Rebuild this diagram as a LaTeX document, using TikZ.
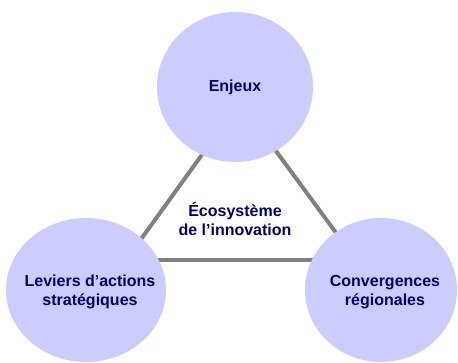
\documentclass[tikz,border=0pt]{standalone}
\usepackage{fontspec}
\setmainfont{Liberation Sans}
\definecolor{bulle}{RGB}{204,204,255}
\definecolor{encre}{RGB}{0,0,102}
\definecolor{trait}{RGB}{128,128,128}
\begin{document}
\begin{tikzpicture}[x=1pt,y=-1pt,
  label/.style={align=center,text=encre,inner sep=0pt,
    font=\fontsize{16}{18.5}\selectfont\bfseries},
  lien/.style={draw=trait,line width=4pt}]
\useasboundingbox (0,0) rectangle (458,363);
% triangle behind the circles
\coordinate (haut) at (240,102);
\coordinate (gauche) at (126,260);
\coordinate (droite) at (356,260);
\draw[lien] (haut) -- (gauche);
\draw[lien] (haut) -- (droite);
\draw[lien] (gauche) -- (droite);
% circles
\fill[bulle] (235,87) ellipse [x radius=78, y radius=75];
\fill[bulle] (86,290) ellipse [x radius=80, y radius=72];
\fill[bulle] (381,290) ellipse [x radius=76, y radius=72];
\node[label] (enjeux) at (235,87) {Enjeux};
\node[label] (leviers) at (90,292) {Leviers d’actions\\stratégiques};
\node[label] (converg) at (385,292) {Convergences\\régionales};
% centre
\node[label,font=\fontsize{16}{19}\selectfont\bfseries] (eco) at (235,219) {Écosystème\\de l’innovation};
\end{tikzpicture}
\end{document}
